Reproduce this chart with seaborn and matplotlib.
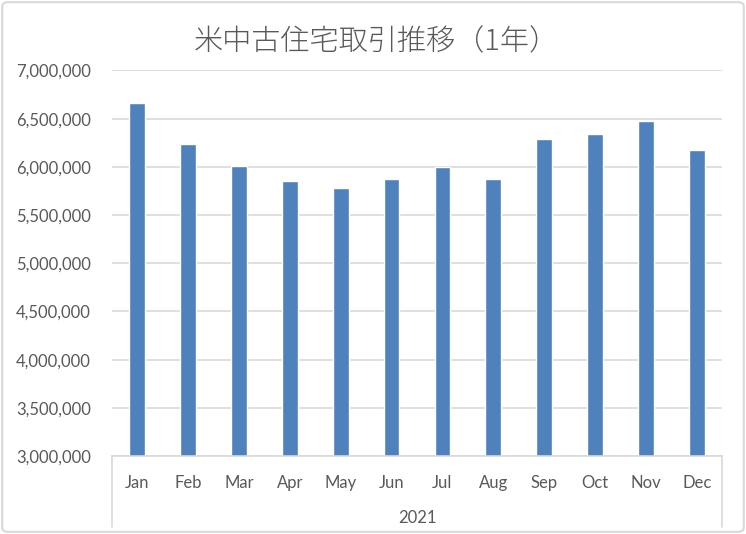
import pandas as pd
import seaborn as sns
import matplotlib.pyplot as plt
from matplotlib.lines import Line2D
from matplotlib.patches import FancyBboxPatch
from matplotlib.ticker import FuncFormatter

months = ["Jan", "Feb", "Mar", "Apr", "May", "Jun",
          "Jul", "Aug", "Sep", "Oct", "Nov", "Dec"]
sales = [6663000, 6236000, 6007000, 5851000, 5778000, 5872000,
         5997000, 5872000, 6289000, 6341000, 6476000, 6174000]
year_label = "2021"
title = "米中古住宅取引推移（1年）"

df = pd.DataFrame({"month": months, "sales": sales})

sns.set_theme(style="white")
plt.rcParams["font.family"] = ["Lato", "DejaVu Sans"]

fig = plt.figure(figsize=(7.46, 5.34), dpi=100)
ax = fig.add_axes([0.150, 0.146, 0.818, 0.722])

sns.barplot(data=df, x="month", y="sales", color="#4F81BD", width=0.31,
            saturation=1, ax=ax)

ax.set_ylim(3000000, 7000000)
ax.set_yticks(range(3000000, 7000001, 500000))
ax.yaxis.set_major_formatter(FuncFormatter(lambda v, p: f"{int(v):,}"))
ax.grid(axis="y", color="#D9D9D9", linewidth=1.2)
ax.set_axisbelow(True)
for s in ["top", "right", "left"]:
    ax.spines[s].set_visible(False)
ax.spines["bottom"].set_color("#D9D9D9")
ax.spines["bottom"].set_linewidth(1.2)
ax.tick_params(axis="y", length=0, pad=15, labelsize=12, labelcolor="#595959")
ax.tick_params(axis="x", length=0, pad=14, labelsize=12, labelcolor="#595959")
ax.set_xlabel("")
ax.set_ylabel("")

# multi-level category box
for xf in (0.150, 0.968):
    fig.add_artist(Line2D([xf, xf], [0.146, 0.013], color="#D9D9D9", linewidth=1.2))
ax.text(0.5, -0.16, year_label, transform=ax.transAxes, ha="center", va="center",
        fontsize=12, color="#595959")

fig.text(0.504, 0.921, title, ha="center", va="center", fontsize=21,
         color="#595959", family=["Noto Sans CJK JP", "DejaVu Sans"],
         fontweight="light")

# chart border
fig.add_artist(FancyBboxPatch((0.003, 0.004), 0.994, 0.992,
                              boxstyle="round,pad=0,rounding_size=0.008",
                              transform=fig.transFigure, fill=False,
                              edgecolor="#D9D9D9", linewidth=1.5))

fig.savefig("out.png", dpi=100)
